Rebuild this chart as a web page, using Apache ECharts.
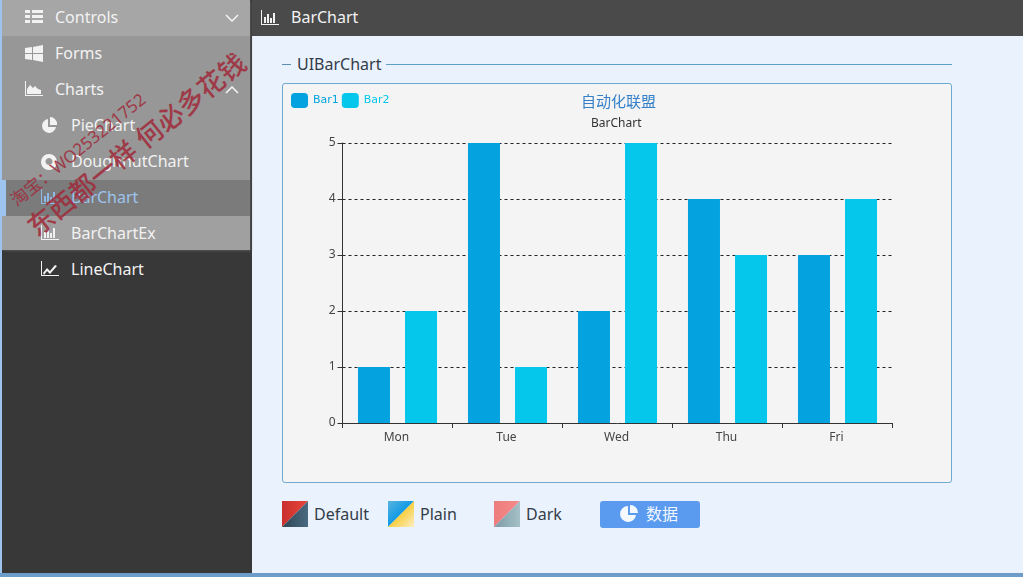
<!DOCTYPE html>
<html>
<head>
<meta charset="utf-8">
<title>BarChart</title>
<script src="https://cdn.jsdelivr.net/npm/echarts@6/dist/echarts.min.js"></script>
<style>
html, body { margin: 0; padding: 0; width: 1023px; height: 577px; overflow: hidden; background: #eaf2fd;
  font-family: "Noto Sans", "Noto Sans CJK SC", sans-serif; }
.abs { position: absolute; }
#side { left: 0; top: 0; width: 252px; height: 573px; background: #383838; }
#overlay { left: 2px; top: 0; width: 248px; height: 250px; background: #979797; box-shadow: 1px 1px 2px #555; }
#strip { left: 0; top: 0; width: 2px; height: 573px; background: #9cc4ee; }
.row { position: absolute; left: 0; width: 252px; height: 36px; line-height: 34px; color: #f2f2f2; font-size: 16px; }
.row span { position: absolute; }
.row svg { position: absolute; top: 9px; }
#top { left: 252px; top: 0; width: 771px; height: 36px; background: #4a4a4a; color: #f2f2f2; font-size: 16px; line-height: 34px; }
#bottom { left: 0; top: 573px; width: 1023px; height: 4px; background: #6d9cc8; }
#legend-line1 { left: 282px; top: 64px; width: 9px; height: 1px; background: #5a8fb5; }
#legend-line2 { left: 386px; top: 64px; width: 566px; height: 1px; background: #5a9fc8; }
#group { left: 297px; top: 52px; font-size: 16px; color: #333c48; line-height: 24px; }
#panel { left: 282px; top: 83px; width: 668px; height: 398px; border: 1px solid #6ea9cf; border-radius: 3px; background: #f4f4f4; }
#chart { left: 282px; top: 83px; width: 670px; height: 400px; }
.swatch { position: absolute; top: 501px; width: 26px; height: 26px; }
.lbl { position: absolute; top: 501px; font-size: 16px; line-height: 26px; color: #333c48; }
#btn { left: 600px; top: 501px; width: 100px; height: 27px; border-radius: 3px; background: #5a9bf0; color: #f4f8ff; font-size: 16px; line-height: 27px; }
.wm { position: absolute; color: #a02a3a; opacity: .85; white-space: nowrap; transform-origin: left bottom; }
</style>
</head>
<body>
<div id="side" class="abs"></div>
<div id="overlay" class="abs"></div>
<div id="strip" class="abs"></div>
<div class="abs" style="left:2px;top:0;width:248px;height:36px;background:#a6a6a6"></div>
<div class="abs" style="left:2px;top:180px;width:248px;height:36px;background:#7b7b7b"></div>
<div class="abs" style="left:0;top:180px;width:6px;height:36px;background:#9cc4ee"></div>
<div class="abs" style="left:2px;top:216px;width:248px;height:34px;background:#a0a0a0"></div>
<div id="menu"></div>
<div id="top" class="abs">
  <svg class="abs" style="left:9px;top:10px" width="18" height="15" viewBox="0 0 18 15"><path d="M0 0h1v14h17v1H0z M3 7h2v6H3z M6 4h2v9H6z M9 8h2v5H9z M12 3h2v10h-2z" fill="#f2f2f2"/></svg>
  <span class="abs" style="left:39px;top:0">BarChart</span>
</div>
<div id="bottom" class="abs"></div>
<div id="legend-line1" class="abs"></div>
<div id="legend-line2" class="abs"></div>
<div id="group" class="abs">UIBarChart</div>
<div id="panel" class="abs"></div>
<div id="chart" class="abs"></div>

<svg class="swatch" style="left:282px" viewBox="0 0 26 26"><defs>
  <linearGradient id="d1" x1="0" y1="0" x2="1" y2="0"><stop offset="0" stop-color="#c9302c"/><stop offset="1" stop-color="#e8453c"/></linearGradient>
  <linearGradient id="d2" x1="0" y1="0" x2="1" y2="0"><stop offset="0" stop-color="#2f4554"/><stop offset="1" stop-color="#4a6a80"/></linearGradient>
  <linearGradient id="p1" gradientUnits="userSpaceOnUse" x1="0" y1="0" x2="13" y2="13"><stop offset="0" stop-color="#58b4dc"/><stop offset="1" stop-color="#109ae8"/></linearGradient>
  <linearGradient id="p2" gradientUnits="userSpaceOnUse" x1="13" y1="13" x2="26" y2="26"><stop offset="0" stop-color="#f8cf40"/><stop offset="1" stop-color="#fbeec4"/></linearGradient>
  <linearGradient id="k1" x1="0" y1="0" x2="1" y2="0"><stop offset="0" stop-color="#ee7d7d"/><stop offset="1" stop-color="#f48a8a"/></linearGradient>
  <linearGradient id="k2" x1="0" y1="0" x2="1" y2="0"><stop offset="0" stop-color="#7d9aa6"/><stop offset="1" stop-color="#a5c0c6"/></linearGradient>
</defs><path d="M0 0h26L0 26z" fill="url(#d1)"/><path d="M26 0v26H0z" fill="url(#d2)"/></svg>
<div class="lbl" style="left:314px">Default</div>
<svg class="swatch" style="left:388px" viewBox="0 0 26 26"><path d="M0 0h26L0 26z" fill="url(#p1)"/><path d="M26 0v26H0z" fill="url(#p2)"/></svg>
<div class="lbl" style="left:420px">Plain</div>
<svg class="swatch" style="left:494px" viewBox="0 0 26 26"><path d="M0 0h26L0 26z" fill="url(#k1)"/><path d="M26 0v26H0z" fill="url(#k2)"/></svg>
<div class="lbl" style="left:526px">Dark</div>
<div id="btn" class="abs">
  <svg class="abs" style="left:20px;top:4px" width="18" height="18" viewBox="0 0 18 18"><path d="M8 1a8 8 0 1 0 8 9H8z M10 0a8 8 0 0 1 8 8h-8z" fill="#f4f8ff"/></svg>
  <span class="abs" style="left:46px;top:0">数据</span>
</div>

<div class="wm" style="left:20px;top:186px;font-size:17px;transform:rotate(-39deg)">淘宝：WO253221752</div>
<div class="wm" style="left:42px;top:205px;font-size:26.5px;font-weight:500;transform:rotate(-39deg)">东西都一样 何必多花钱</div>

<script>
// menu rows: label, y, text x
const menuLabels = ['Controls', 'Forms', 'Charts', 'PieChart', 'DoughnutChart', 'BarChart', 'BarChartEx', 'LineChart'];
const menuTextX = [55, 55, 55, 71, 71, 71, 71, 71];

// chart data
const categories = ['Mon', 'Tue', 'Wed', 'Thu', 'Fri'];
const bar1Values = [1, 5, 2, 4, 3];
const bar2Values = [2, 1, 5, 3, 4];
const barColors = ['#04a3df', '#05c7ec'];

const icons = [
    '<path d="M0 1h5v3H0zM7 1h11v3H7zM0 6h5v3H0zM7 6h11v3H7zM0 11h5v3H0zM7 11h11v3H7z"/>',
    '<path d="M0 3l7-1v6H0zM8 2l10-2v8H8zM0 9h7v6l-7-1zM8 9h10v8L8 15z"/>',
    '<path d="M0 0h1v14h17v1H0zM2 13V8l3-4 3 3 2-2 3 3 3 1v4z"/>',
    '<path d="M7 2a7 7 0 1 0 8 8H7zM9 0a7 7 0 0 1 7 8H9z"/>',
    '<path fill-rule="evenodd" d="M8 1a8 8 0 1 0 .01 0zM8 5a3.5 3.5 0 1 1-.01 0z"/>',
    '<path d="M0 0h1v14h17v1H0zM3 7h2v6H3zM6 4h2v9H6zM9 8h2v5H9zM12 3h2v10h-2z"/>',
    '<path d="M0 0h1v14h17v1H0zM3 7h2v6H3zM6 4h2v9H6zM9 8h2v5H9zM12 3h2v10h-2z"/>',
    '<path d="M0 0h1v14h17v1H0zM2 12l4-5 3 3 5-6 2 1-7 8-3-3-3 4z"/>'
];

const menu = document.getElementById('menu');
menuLabels.forEach((label, i) => {
    const row = document.createElement('div');
    row.className = 'row';
    row.style.top = (i * 36) + 'px';
    const iconX = menuTextX[i] - 30;
    const active = i === 5;
    row.innerHTML = `<svg style="left:${iconX}px" width="18" height="17" viewBox="0 0 18 17" fill="${active ? '#8fb8e8' : '#f2f2f2'}">${icons[i]}</svg>` +
        `<span style="left:${menuTextX[i]}px;color:${active ? '#9cc4ee' : '#f2f2f2'}">${label}</span>`;
    if (i === 0 || i === 2) {
        const d = i === 0 ? 'M1 1l6 6 6-6' : 'M1 7l6-6 6 6';
        row.innerHTML += `<svg style="left:225px;top:14px" width="14" height="8" viewBox="0 0 14 8"><path d="${d}" fill="none" stroke="#f2f2f2" stroke-width="1.6"/></svg>`;
    }
    menu.appendChild(row);
});

const chart = echarts.init(document.getElementById('chart'), null, { renderer: 'canvas' });

const fontFamily = '"Noto Sans", "Noto Sans CJK SC", sans-serif';

chart.setOption({
    animation: false,
    backgroundColor: 'transparent',
    color: barColors,
    title: [
        {
            text: '自动化联盟',
            left: 299,
            top: 12,
            padding: 0,
            textStyle: { color: '#3580c8', fontSize: 15, fontWeight: 'normal', fontFamily }
        },
        {
            text: 'BarChart',
            left: 309,
            top: 35,
            padding: 0,
            textStyle: { color: '#333', fontSize: 12, fontWeight: 'normal', fontFamily }
        }
    ],
    legend: {
        left: 9,
        top: 10,
        padding: 0,
        itemWidth: 17,
        itemHeight: 15,
        itemGap: 3,
        textStyle: { fontSize: 11, color: 'inherit', fontFamily: '"DejaVu Sans", sans-serif' },
        data: ['Bar1', 'Bar2']
    },
    grid: { left: 60.5, right: 59.5, top: 60, bottom: 60 },
    xAxis: {
        type: 'category',
        data: categories,
        axisLine: { lineStyle: { color: '#333', width: 1 } },
        axisTick: { show: true, alignWithLabel: false, length: 5, lineStyle: { color: '#333' } },
        axisLabel: { color: '#444', fontSize: 12, margin: 9, padding: [0, 2, 0, 0], fontFamily },
        splitLine: { show: false }
    },
    yAxis: {
        type: 'value',
        min: 0,
        max: 5,
        interval: 1,
        axisLine: { show: true, lineStyle: { color: '#333', width: 1 } },
        axisTick: { show: true, length: 5, lineStyle: { color: '#333' } },
        axisLabel: { color: '#444', fontSize: 12, margin: 7, padding: [4, 0, 0, 0], fontFamily },
        splitLine: { show: true, lineStyle: { color: '#222', type: [3, 3], width: 1 } }
    },
    series: [
        { name: 'Bar1', type: 'bar', data: bar1Values, barWidth: 32, barGap: '47%' },
        { name: 'Bar2', type: 'bar', data: bar2Values, barWidth: 32, barGap: '47%' }
    ]
});
</script>
</body>
</html>
